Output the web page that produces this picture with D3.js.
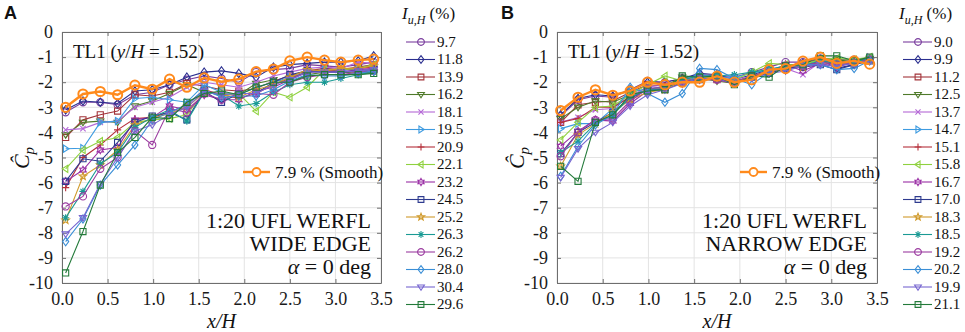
<!DOCTYPE html>
<html><head><meta charset="utf-8">
<script src="https://cdn.jsdelivr.net/npm/d3@7"></script>
<style>
html,body{margin:0;padding:0;background:#fff;}
svg{display:block;}
svg text{font-family:"Liberation Serif","Times New Roman","DejaVu Serif",serif;}
svg text.sans{font-family:"Liberation Sans",Arial,"DejaVu Sans",sans-serif;}
</style></head>
<body>
<svg id="chart" width="965" height="332"></svg>
<script>
// ---------------- DATA ----------------
const xPos = [0.04,0.23,0.42,0.61,0.80,0.99,1.18,1.37,1.56,1.75,1.94,2.13,2.32,2.50,2.69,2.88,3.06,3.25,3.42];
const xTicks = [0,0.5,1,1.5,2,2.5,3,3.5];
const yTicks = [0,-1,-2,-3,-4,-5,-6,-7,-8,-9,-10];

// Panel A (wide edge) turbulence intensities
const labelsA = ["9.7","11.8","13.9","16.2","18.1","19.5","20.9","22.1","23.2","24.5","25.2","26.3","26.2","28.0","30.4","29.6"];
const a01 = [-3.2,-2.8,-2.8,-2.9,-2.5,-2.4,-2.1,-1.9,-1.75,-1.85,-2.0,-1.6,-1.5,-1.45,-1.3,-1.35,-1.4,-1.3,-1.2];
const a02 = [-3.1,-2.75,-2.8,-2.85,-2.35,-2.3,-2.1,-1.8,-1.6,-1.55,-1.65,-1.8,-1.4,-1.3,-1.25,-1.2,-1.2,-1.15,-0.95];
const a03 = [-4.2,-3.5,-3.3,-3.15,-2.5,-2.55,-2.4,-2.05,-2.15,-2.3,-2.35,-2.25,-1.95,-1.75,-1.55,-1.45,-1.5,-1.4,-1.3];
const a04 = [-4.1,-3.6,-3.55,-3.6,-2.95,-2.75,-2.45,-2.1,-2.4,-2.45,-2.5,-2.05,-1.9,-2.0,-1.7,-1.6,-1.6,-1.65,-1.6];
const a05 = [-3.9,-3.85,-3.6,-3.55,-3.0,-2.8,-2.6,-2.2,-2.0,-2.1,-2.2,-2.0,-1.75,-1.6,-1.45,-1.4,-1.45,-1.2,-1.25];
const a06 = [-4.65,-4.63,-3.6,-3.55,-2.65,-2.6,-2.7,-2.8,-2.1,-2.4,-2.5,-2.2,-2.0,-1.8,-1.6,-1.5,-1.55,-1.45,-1.35];
const a07 = [-6.2,-5.0,-4.5,-3.9,-3.45,-3.4,-3.2,-2.9,-2.3,-2.5,-2.65,-2.45,-2.1,-1.85,-1.6,-1.55,-1.5,-1.45,-1.4];
const a08 = [-5.45,-4.7,-4.35,-4.2,-3.6,-3.5,-3.45,-3.3,-2.4,-2.5,-2.45,-3.15,-2.4,-2.6,-2.2,-1.5,-1.5,-1.45,-1.3];
const a09 = [-5.95,-5.5,-4.7,-4.6,-3.5,-3.4,-2.95,-3.1,-2.5,-2.7,-2.7,-2.35,-2.2,-1.9,-1.6,-1.55,-1.6,-1.5,-1.45];
const a10 = [-5.95,-5.05,-5.15,-4.4,-3.6,-3.35,-3.2,-3.5,-2.35,-2.8,-2.45,-2.45,-2.0,-1.7,-1.55,-1.6,-1.6,-1.55,-1.5];
const a11 = [-7.5,-5.75,-5.3,-4.7,-3.7,-3.45,-3.25,-3.0,-2.4,-2.5,-2.6,-2.3,-2.1,-1.8,-1.5,-1.55,-1.45,-1.45,-1.35];
const a12 = [-7.4,-6.35,-5.25,-4.8,-3.8,-3.4,-3.1,-3.55,-2.4,-2.5,-2.95,-2.85,-2.4,-2.1,-2.0,-2.0,-1.85,-1.7,-1.6];
const a13 = [-6.95,-6.55,-5.45,-5.0,-3.95,-4.5,-3.05,-3.2,-2.45,-2.7,-2.45,-2.45,-2.5,-2.0,-1.8,-1.7,-1.7,-1.6,-1.55];
const a14 = [-8.35,-7.45,-6.1,-5.3,-4.5,-3.5,-3.2,-2.9,-2.3,-2.6,-2.55,-2.55,-2.3,-1.95,-1.7,-1.75,-1.75,-1.65,-1.55];
const a15 = [-8.05,-7.4,-6.05,-5.0,-3.95,-3.7,-3.3,-3.0,-2.35,-2.5,-2.45,-2.45,-2.1,-1.9,-1.6,-1.6,-1.6,-1.55,-1.5];
const a16 = [-9.6,-7.95,-6.1,-4.8,-4.2,-3.4,-3.45,-2.8,-2.45,-2.35,-2.5,-2.2,-2.0,-2.0,-1.75,-1.7,-1.7,-1.7,-1.65];
const smoothA = [-3.0,-2.47,-2.37,-2.5,-2.12,-2.28,-1.88,-2.2,-1.83,-1.98,-1.88,-1.58,-1.48,-1.15,-1.0,-1.12,-1.2,-1.12,-1.08];

// Panel B (narrow edge) turbulence intensities
const labelsB = ["9.0","9.9","11.2","12.5","13.7","14.7","15.1","15.8","16.7","17.0","18.3","18.5","19.2","20.2","19.9","21.1"];
const b01 = [-3.35,-2.7,-2.55,-2.6,-2.3,-1.95,-2.0,-1.85,-1.7,-1.75,-1.8,-1.6,-1.4,-1.2,-1.2,-1.05,-1.1,-1.1,-1.05];
const b02 = [-3.3,-2.65,-2.5,-2.55,-2.3,-2.0,-2.0,-1.85,-1.65,-1.7,-1.9,-1.7,-1.5,-1.5,-1.25,-1.1,-1.45,-1.3,-1.1];
const b03 = [-3.6,-2.9,-2.8,-2.75,-2.4,-2.1,-2.15,-1.9,-1.8,-1.9,-2.0,-1.75,-1.55,-1.35,-1.25,-1.1,-1.2,-1.15,-1.1];
const b04 = [-3.45,-3.0,-2.75,-2.8,-2.5,-2.3,-2.15,-1.8,-1.85,-1.95,-2.05,-1.75,-1.65,-1.4,-1.35,-1.05,-1.1,-1.2,-1.05];
const b05 = [-3.6,-3.4,-3.1,-3.05,-2.55,-2.2,-2.1,-1.95,-1.75,-1.8,-1.85,-1.8,-1.55,-1.45,-1.7,-1.2,-1.3,-1.25,-0.95];
const b06 = [-3.85,-3.65,-3.65,-3.05,-2.4,-2.25,-2.2,-1.9,-1.7,-1.8,-1.8,-1.65,-1.5,-1.35,-1.3,-1.1,-1.2,-1.2,-1.05];
const b07 = [-3.6,-3.45,-3.0,-3.0,-2.6,-2.3,-2.25,-1.95,-1.9,-1.85,-1.95,-1.8,-1.6,-1.4,-1.4,-1.15,-1.25,-1.15,-1.05];
const b08 = [-4.3,-3.6,-3.0,-2.95,-2.5,-2.1,-1.75,-1.95,-1.8,-1.85,-1.9,-1.6,-1.25,-1.3,-1.3,-1.1,-1.05,-1.1,-1.0];
const b09 = [-4.55,-3.95,-3.5,-3.55,-2.85,-2.35,-2.25,-2.05,-1.9,-1.9,-2.05,-1.8,-1.6,-1.3,-1.55,-1.25,-1.4,-1.2,-1.1];
const b10 = [-4.85,-4.0,-3.6,-3.2,-2.65,-2.3,-2.3,-2.0,-1.9,-1.85,-1.95,-1.8,-1.65,-1.45,-1.4,-1.3,-1.5,-1.3,-1.15];
const b11 = [-5.35,-4.1,-3.65,-3.2,-2.7,-2.4,-2.3,-1.95,-1.85,-1.8,-2.0,-1.75,-1.6,-1.35,-1.4,-1.2,-1.3,-1.25,-1.1];
const b12 = [-4.8,-4.35,-3.65,-3.3,-2.6,-2.3,-2.25,-1.9,-1.75,-1.75,-1.7,-1.6,-1.5,-1.35,-1.35,-1.15,-1.25,-1.2,-1.05];
const b13 = [-4.95,-4.0,-3.5,-3.45,-2.75,-2.25,-2.2,-1.95,-1.85,-1.9,-2.0,-1.75,-1.6,-1.35,-1.35,-1.2,-1.3,-1.25,-1.1];
const b14 = [-5.75,-4.55,-3.7,-3.3,-2.2,-2.45,-2.8,-2.45,-1.45,-1.5,-1.85,-2.1,-1.6,-1.4,-1.3,-1.3,-1.5,-1.45,-1.15];
const b15 = [-5.8,-4.65,-4.0,-3.6,-2.95,-2.5,-2.3,-2.05,-1.85,-1.85,-2.05,-1.85,-1.65,-1.55,-1.35,-1.3,-1.35,-1.25,-1.15];
const b16 = [-5.35,-5.95,-3.6,-3.3,-2.5,-2.35,-2.3,-1.75,-1.8,-1.75,-2.1,-1.75,-1.8,-1.35,-1.3,-0.95,-0.95,-1.15,-1.0];
const smoothB = [-3.13,-2.6,-2.3,-2.52,-2.35,-2.0,-2.1,-2.0,-2.0,-1.76,-2.0,-1.9,-1.5,-1.46,-1.16,-1.0,-1.25,-1.15,-1.28];

const seriesColors = ["#7b3f9e","#2b2f8f","#a3343a","#4f7a2a","#b468d6","#3d9be0","#b5303b","#8fd13f",
                      "#9a2fa5","#2e3b8f","#d09a2b","#1a9a94","#9b3ca0","#3a8ed6","#7766d0","#237a3a"];
const seriesMarkers = ["circle","diamond","square","triDown","x","triRight","plus","triLeft",
                       "hexagram","square","star","asterisk","circle","diamond","triDown","square"];
const smoothColor = "#ff8a1c";

// ---------------- SYMBOLS ----------------
function mkType(fn){ return {draw(ctx,size){ fn(ctx, Math.sqrt(size)/2); }}; }
const symbolTypes = {
  circle: mkType((c,r)=>{ c.moveTo(r,0); c.arc(0,0,r,0,2*Math.PI); }),
  square: mkType((c,r)=>{ const s=r*0.85; c.moveTo(-s,-s); c.lineTo(s,-s); c.lineTo(s,s); c.lineTo(-s,s); c.closePath(); }),
  diamond: mkType((c,r)=>{ const h=r*1.15, w=r*0.85; c.moveTo(0,-h); c.lineTo(w,0); c.lineTo(0,h); c.lineTo(-w,0); c.closePath(); }),
  triDown: mkType((c,r)=>{ c.moveTo(-r,-r*0.6); c.lineTo(r,-r*0.6); c.lineTo(0,r*0.95); c.closePath(); }),
  triRight: mkType((c,r)=>{ c.moveTo(-r*0.6,-r); c.lineTo(-r*0.6,r); c.lineTo(r*0.95,0); c.closePath(); }),
  triLeft: mkType((c,r)=>{ c.moveTo(r*0.6,-r); c.lineTo(r*0.6,r); c.lineTo(-r*0.95,0); c.closePath(); }),
  x: mkType((c,r)=>{ const s=r*0.75; c.moveTo(-s,-s); c.lineTo(s,s); c.moveTo(s,-s); c.lineTo(-s,s); }),
  plus: mkType((c,r)=>{ c.moveTo(-r,0); c.lineTo(r,0); c.moveTo(0,-r); c.lineTo(0,r); }),
  asterisk: mkType((c,r)=>{ const s=r*0.7; c.moveTo(-r,0); c.lineTo(r,0); c.moveTo(0,-r); c.lineTo(0,r); c.moveTo(-s,-s); c.lineTo(s,s); c.moveTo(s,-s); c.lineTo(-s,s); }),
  star: mkType((c,r)=>{ for(let i=0;i<10;i++){ const a=-Math.PI/2+i*Math.PI/5, rr=(i%2?r*0.45:r*1.1); const px=rr*Math.cos(a), py=rr*Math.sin(a); i?c.lineTo(px,py):c.moveTo(px,py);} c.closePath(); }),
  hexagram: mkType((c,r)=>{ for(let i=0;i<12;i++){ const a=-Math.PI/2+i*Math.PI/6, rr=(i%2?r*0.6:r*1.05); const px=rr*Math.cos(a), py=rr*Math.sin(a); i?c.lineTo(px,py):c.moveTo(px,py);} c.closePath(); })
};
const sym = (name, r) => d3.symbol().type(symbolTypes[name]).size((2*r)*(2*r))();

// ---------------- DRAW ----------------
const svg = d3.select("#chart");

function panel(opt){
  const x = d3.scaleLinear().domain([0,3.5]).range([opt.x0, opt.x1]);
  const y = d3.scaleLinear().domain([-10,0]).range([283, 32]);
  const g = svg.append("g");

  // grid
  g.selectAll(".gx").data(xTicks).join("line")
    .attr("x1",d=>x(d)).attr("x2",d=>x(d)).attr("y1",y(-10)).attr("y2",y(0))
    .attr("stroke","#e3e3e3").attr("stroke-width",1);
  g.selectAll(".gy").data(yTicks).join("line")
    .attr("y1",d=>y(d)).attr("y2",d=>y(d)).attr("x1",x(0)).attr("x2",x(3.5))
    .attr("stroke","#e3e3e3").attr("stroke-width",1);

  // axes (MATLAB-like, inward ticks)
  const xb = d3.axisBottom(x).tickValues(xTicks).tickFormat(d3.format(".1f")).tickSizeInner(-4).tickSizeOuter(0).tickPadding(9);
  const xt = d3.axisTop(x).tickValues(xTicks).tickFormat("").tickSizeInner(-4).tickSizeOuter(0);
  const yl = d3.axisLeft(y).tickValues(yTicks).tickFormat(d=>String(d)).tickSizeInner(-4).tickSizeOuter(0).tickPadding(9);
  const yr = d3.axisRight(y).tickValues(yTicks).tickFormat("").tickSizeInner(-4).tickSizeOuter(0);
  const axStyle = s => { s.attr("font-family",null); s.selectAll("path,line").attr("stroke","#6e6e6e"); s.selectAll("text").attr("font-size",18).attr("fill","#1a1a1a"); };
  g.append("g").attr("transform",`translate(0,${y(-10)})`).call(xb).call(axStyle);
  g.append("g").attr("transform",`translate(0,${y(0)})`).call(xt).call(axStyle);
  g.append("g").attr("transform",`translate(${x(0)},0)`).call(yl).call(axStyle);
  g.append("g").attr("transform",`translate(${x(3.5)},0)`).call(yr).call(axStyle);

  const line = d3.line().x((d,i)=>x(xPos[i])).y(d=>y(d));

  opt.series.forEach((vals,k)=>{
    const col = seriesColors[k];
    g.append("path").datum(vals).attr("d",line).attr("fill","none").attr("stroke",col).attr("stroke-width",1.1);
    g.selectAll(null).data(vals).join("path")
      .attr("transform",(d,i)=>`translate(${x(xPos[i])},${y(d)})`)
      .attr("d",sym(seriesMarkers[k],3.6))
      .attr("fill","none").attr("stroke",col).attr("stroke-width",1.1);
  });
  // smooth
  g.append("path").datum(opt.smooth).attr("d",line).attr("fill","none").attr("stroke",smoothColor).attr("stroke-width",2.4);
  g.selectAll(null).data(opt.smooth).join("circle")
    .attr("cx",(d,i)=>x(xPos[i])).attr("cy",d=>y(d)).attr("r",4.6)
    .attr("fill","none").attr("stroke",smoothColor).attr("stroke-width",2);

  // in-plot texts
  const t = g.append("text").attr("x",x(0)+11).attr("y",58).attr("font-size",19).attr("fill","#111");
  t.append("tspan").text("TL1 (");
  t.append("tspan").attr("font-style","italic").text("y");
  t.append("tspan").text("/");
  t.append("tspan").attr("font-style","italic").text("H");
  t.append("tspan").text(" = 1.52)");

  // smooth legend
  const lx = opt.sx;
  g.append("line").attr("x1",lx).attr("x2",lx+27).attr("y1",172).attr("y2",172).attr("stroke",smoothColor).attr("stroke-width",2.4);
  g.append("circle").attr("cx",lx+13.5).attr("cy",172).attr("r",4).attr("fill","#fff").attr("stroke",smoothColor).attr("stroke-width",1.8);
  g.append("text").attr("x",lx+32).attr("y",177.5).attr("font-size",17).attr("fill","#111").text("7.9 % (Smooth)");

  const rx = x(3.5)-10;
  g.append("text").attr("x",rx).attr("y",228).attr("text-anchor","end").attr("font-size",22).attr("fill","#111").text("1:20 UFL WERFL");
  g.append("text").attr("x",rx).attr("y",251).attr("text-anchor","end").attr("font-size",22).attr("fill","#111").text(opt.edge);
  const al = g.append("text").attr("x",rx).attr("y",274).attr("text-anchor","end").attr("font-size",22).attr("fill","#111");
  al.append("tspan").attr("font-style","italic").text("α");
  al.append("tspan").text(" = 0 deg");

  // axis labels
  const xl = g.append("text").attr("x",(x(0)+x(3.5))/2).attr("y",328).attr("text-anchor","middle").attr("font-size",20).attr("font-style","italic").attr("fill","#111");
  xl.text("x/H");
  const yt = g.append("text").attr("transform",`translate(${x(0)-33},158) rotate(-90)`).attr("text-anchor","middle").attr("font-size",22).attr("font-style","italic").attr("fill","#111");
  yt.append("tspan").text("Ĉ");
  yt.append("tspan").attr("font-size",15).attr("dy",5).text("p");

  // panel letter
  g.append("text").attr("class","sans").attr("x",opt.letterX).attr("y",19).attr("font-weight","bold").attr("font-size",18).attr("fill","#111").text(opt.letter);

  // right legend
  const lg = g.append("g");
  const hdr = lg.append("text").attr("x",opt.legX-4).attr("y",19).attr("font-size",17).attr("fill","#111");
  hdr.append("tspan").attr("font-style","italic").text("I");
  hdr.append("tspan").attr("font-style","italic").attr("font-size",12).attr("dy",5).text("u,H");
  hdr.append("tspan").attr("dy",-5).text(" (%)");
  opt.labels.forEach((lab,k)=>{
    const yy = 42 + k*17.5;
    const col = seriesColors[k];
    lg.append("line").attr("x1",opt.legX).attr("x2",opt.legX+29).attr("y1",yy).attr("y2",yy).attr("stroke",col).attr("stroke-width",1.1);
    lg.append("path").attr("transform",`translate(${opt.legX+15},${yy})`).attr("d",sym(seriesMarkers[k],3.4)).attr("fill","none").attr("stroke",col).attr("stroke-width",1.1);
    lg.append("text").attr("x",opt.legX+31).attr("y",yy+4.5).attr("font-size",15).attr("fill","#111").text(lab);
  });
}

panel({x0:62, x1:381, series:[a01,a02,a03,a04,a05,a06,a07,a08,a09,a10,a11,a12,a13,a14,a15,a16], smooth:smoothA,
       labels:labelsA, edge:"WIDE EDGE", letter:"A", letterX:4, legX:406, sx:243});
panel({x0:557, x1:877, series:[b01,b02,b03,b04,b05,b06,b07,b08,b09,b10,b11,b12,b13,b14,b15,b16], smooth:smoothB,
       labels:labelsB, edge:"NARROW EDGE", letter:"B", letterX:501, legX:903, sx:740});
</script>
</body></html>
